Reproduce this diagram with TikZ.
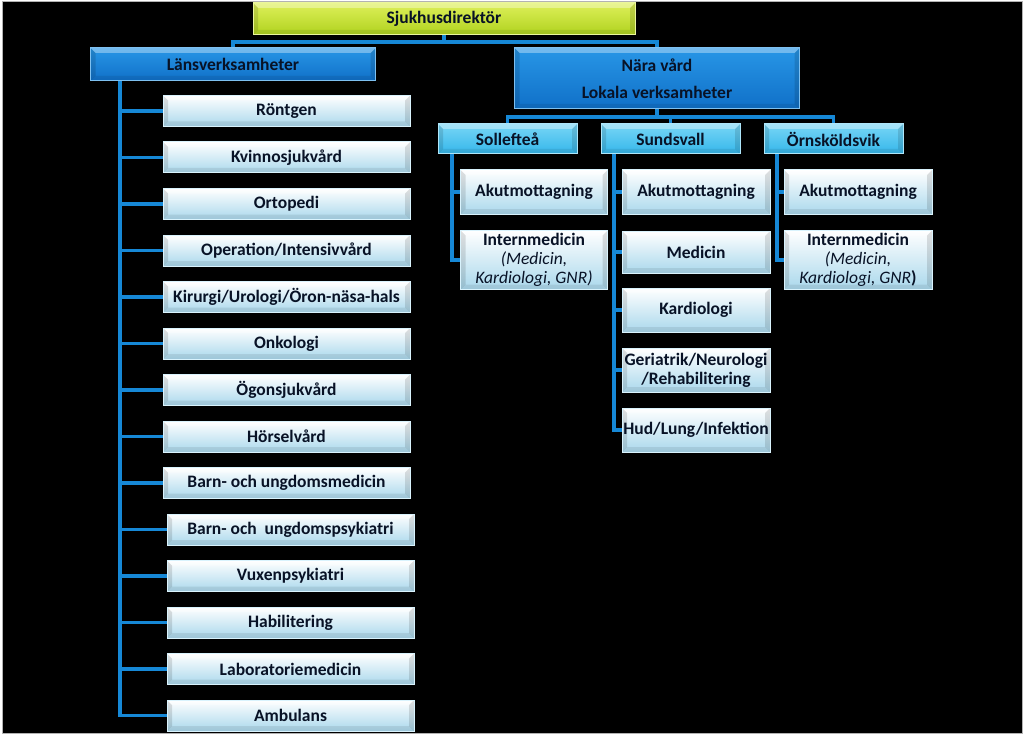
\documentclass[tikz,border=0pt]{standalone}
\usepackage{fontspec}
\setmainfont{Carlito}
\usetikzlibrary{calc}

\definecolor{inkblue}{RGB}{8,18,38}
\definecolor{linkblue}{RGB}{22,136,214}
\definecolor{limetop}{RGB}{222,240,90}
\definecolor{limebot}{RGB}{176,210,30}
\definecolor{deeptop}{RGB}{40,150,230}
\definecolor{deepbot}{RGB}{16,112,200}
\definecolor{cyantop}{RGB}{120,214,246}
\definecolor{cyanbot}{RGB}{52,182,234}
\definecolor{palebot}{RGB}{170,216,236}

\tikzset{
  bevel/.style={path picture={
    \fill[white,opacity=.35] (path picture bounding box.north west) -- ++(5pt,-5pt)
      -| ($(path picture bounding box.north east)+(-5pt,-5pt)$)
      -- (path picture bounding box.north east) -- cycle;
    \fill[black,opacity=.12] (path picture bounding box.north west) -- ++(5pt,-5pt)
      |- ($(path picture bounding box.south west)+(5pt,5pt)$)
      -- (path picture bounding box.south west) -- cycle;
    \fill[black,opacity=.12] (path picture bounding box.north east) -- ++(-5pt,-5pt)
      |- ($(path picture bounding box.south east)+(-5pt,5pt)$)
      -- (path picture bounding box.south east) -- cycle;
    \fill[black,opacity=.08] (path picture bounding box.south west) -- ++(5pt,5pt)
      -| ($(path picture bounding box.south east)+(-5pt,5pt)$)
      -- (path picture bounding box.south east) -- cycle;
  }},
  topbox/.style={bevel, draw=limetop!60!white, line width=1pt, top color=limetop, bottom color=limebot,
    minimum width=382pt, minimum height=32pt},
  mainbox/.style={bevel, draw=deeptop!60!white, line width=1pt, top color=deeptop, bottom color=deepbot,
    minimum width=285pt},
  citybox/.style={bevel, draw=cyantop!60!white, line width=1pt, top color=cyantop, bottom color=cyanbot,
    minimum width=139pt, minimum height=30pt},
  unitbox/.style={bevel, draw=white!85!cyan, line width=1pt, top color=white, bottom color=palebot,
    minimum height=44pt},
  listbox/.style={bevel, draw=white!85!cyan, line width=1pt, top color=white, bottom color=palebot,
    minimum width=247pt, minimum height=31pt},
  conn/.style={draw=linkblue, line width=3.2pt}
}

\begin{document}
\begin{tikzpicture}[x=1pt,y=-1pt,
  every node/.style={font=\fontsize{17.5}{19}\selectfont\bfseries, text=inkblue, align=center, inner sep=0pt}]
  \useasboundingbox (0,0) rectangle (1024,738);
  \fill[white] (0,0) rectangle (1024,738);
  \fill[black] (2,2) rectangle (1022,733);
  \draw[gray!60, line width=1pt] (2,2) rectangle (1022,733);

  % top levels
  \node[topbox] (dir) at (444,19) {Sjukhusdirektör};
  \node[mainbox, minimum height=33pt] (lans) at (233,64.5) {Länsverksamheter};
  \node[mainbox, minimum height=61pt, font=\fontsize{17.5}{27}\selectfont\bfseries] (nara) at (657,78.5)
    {Nära vård\\Lokala verksamheter};
  \coordinate (jtop) at (444,42);
  \draw[conn] (dir.south) -- (jtop);
  \draw[conn] (lans.north) |- (jtop) -| (nara.north);

  % orter
  \node[citybox] (sol) at (507.5,139) {Sollefteå};
  \node[citybox] (sun) at (670.5,139) {Sundsvall};
  \node[citybox] (orn) at (833.5,139) {Örnsköldsvik};
  \coordinate (jnara) at (657,117);
  \draw[conn] (nara.south) -- (jnara);
  \draw[conn] (sol.north) |- (jnara) -| (orn.north);
  \draw[conn] (sun.north) -- (sun.north |- jnara);

  % Sollefteå
  \node[unitbox, minimum width=147pt] (solakut) at (534,192) {Akutmottagning};
  \node[unitbox, minimum width=147pt, minimum height=59pt] (solint) at (534,260)
    {Internmedicin\\{\mdseries\itshape (Medicin,}\\{\mdseries\itshape Kardiologi, GNR)}};
  \coordinate (soltrunk) at (452,154);
  \draw[conn] (soltrunk) |- (solint.west);
  \draw[conn] (soltrunk |- solakut.west) -- (solakut.west);

  % Sundsvall
  \node[unitbox, minimum width=148pt] (sunakut) at (696,192) {Akutmottagning};
  \node[unitbox, minimum width=148pt, minimum height=42pt] (sunmed) at (696,252) {Medicin};
  \node[unitbox, minimum width=148pt] (sunkard) at (696,310) {Kardiologi};
  \node[unitbox, minimum width=148pt] (sunger) at (696,370) {Geriatrik/Neurologi\\/Rehabilitering};
  \node[unitbox, minimum width=148pt] (sunhud) at (696,430) {Hud/Lung/Infektion};
  \coordinate (suntrunk) at (614,154);
  \draw[conn] (suntrunk) |- (sunhud.west);
  \foreach \u in {sunakut,sunmed,sunkard,sunger}
    \draw[conn] (suntrunk |- \u.west) -- (\u.west);

  % Örnsköldsvik
  \node[unitbox, minimum width=148pt] (ornakut) at (858,192) {Akutmottagning};
  \node[unitbox, minimum width=148pt, minimum height=59pt] (ornint) at (858,260)
    {Internmedicin\\{\mdseries\itshape (Medicin,}\\{\mdseries\itshape Kardiologi, GNR})};
  \coordinate (orntrunk) at (777,154);
  \draw[conn] (orntrunk) |- (ornint.west);
  \draw[conn] (orntrunk |- ornakut.west) -- (ornakut.west);

  % Länsverksamheter
  \coordinate (lanstrunk) at (120,81);
  \foreach \t [count=\i] in {Röntgen,Kvinnosjukvård,Ortopedi,Operation/Intensivvård,
      Kirurgi/Urologi/Öron-näsa-hals,Onkologi,Ögonsjukvård,Hörselvård,Barn- och ungdomsmedicin}
    \node[listbox] (l\i) at (286.5,{111+(\i-1)*46.5}) {\t};
  \foreach \t [count=\i from 10] in {Barn- och~ ungdomspsykiatri,Vuxenpsykiatri,Habilitering,
      Laboratoriemedicin,Ambulans}
    \node[listbox] (l\i) at (290.5,{111+(\i-1)*46.5}) {\t};
  \draw[conn] (lanstrunk) |- (l14.west);
  \foreach \i in {1,...,13}
    \draw[conn] (lanstrunk |- l\i.west) -- (l\i.west);
\end{tikzpicture}
\end{document}
